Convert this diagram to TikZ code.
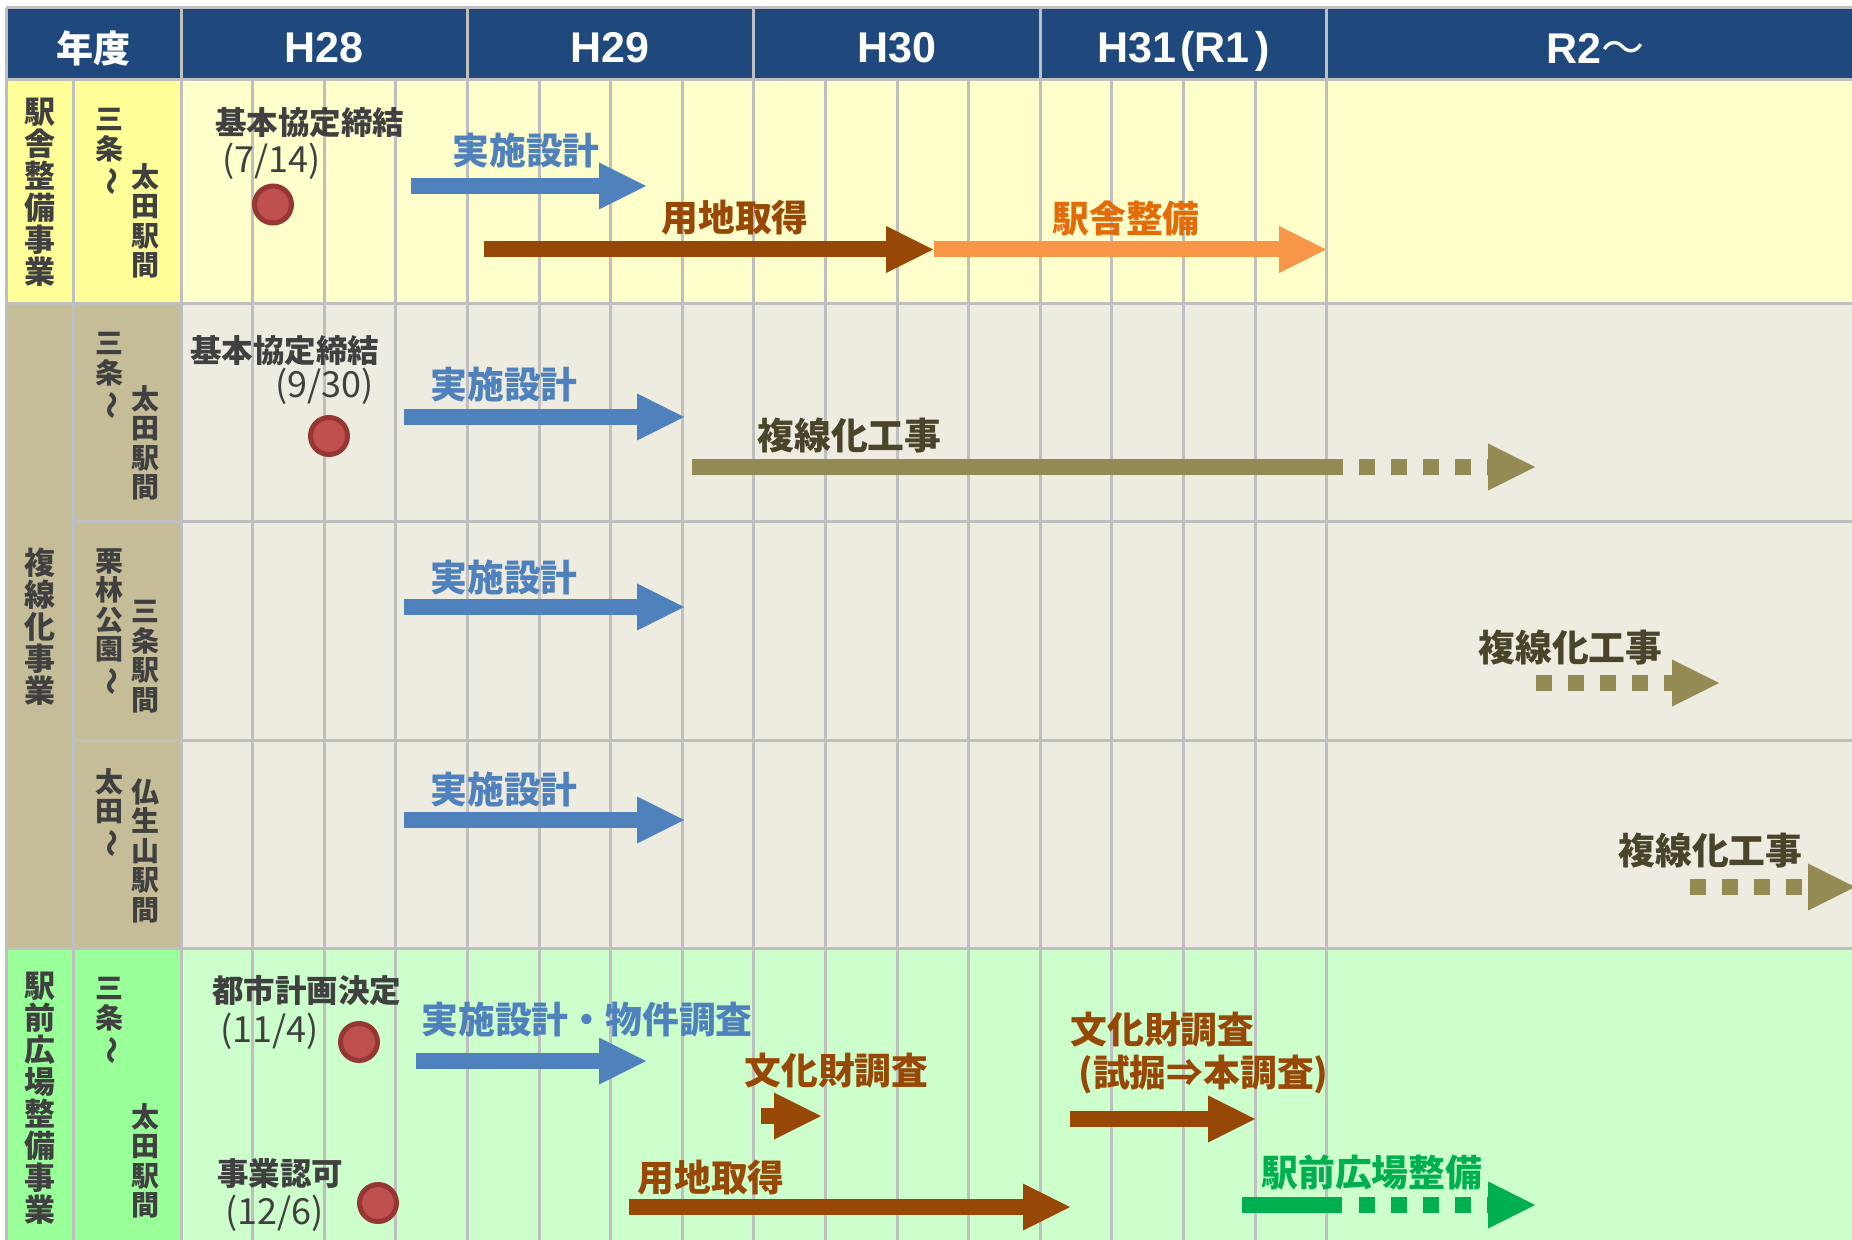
\documentclass[tikz,border=0pt]{standalone}
\usepackage{fontspec}
\setmainfont{Noto Sans CJK JP}
\newfontfamily\latfont{Liberation Sans}
\usepackage{graphicx}
\usetikzlibrary{arrows.meta}

\definecolor{hdrblue}{HTML}{1F497D}
\definecolor{gridgray}{HTML}{BFBFBF}
\definecolor{ylwbody}{HTML}{FFFFCC}
\definecolor{ylwlabel}{HTML}{FFFF99}
\definecolor{bgebody}{HTML}{EEECE1}
\definecolor{bgelabel}{HTML}{C4BD97}
\definecolor{grnbody}{HTML}{CCFFCC}
\definecolor{grnlabel}{HTML}{99FF99}
\definecolor{planblue}{HTML}{4F81BD}
\definecolor{landbrown}{HTML}{974706}
\definecolor{bldorange}{HTML}{F79646}
\definecolor{bldtext}{HTML}{E36C09}
\definecolor{workolive}{HTML}{948A54}
\definecolor{worktext}{HTML}{4A452A}
\definecolor{plazagreen}{HTML}{00B050}
\definecolor{txtgray}{HTML}{404040}
\definecolor{dotred}{HTML}{C0504D}
\definecolor{dotedge}{HTML}{953735}

\newcommand{\vnami}{\rotatebox[origin=c]{-90}{～}}

\tikzset{
  gridline/.style={draw=gridgray,line width=1.5pt},
  bararrow/.style={line width=8pt,-{Triangle[length=23.5pt,width=23.5pt,line width=0pt]}},
  dashbar/.style={bararrow,dash pattern=on 8pt off 8pt},
  milestone/.style={fill=dotred,draw=dotedge,line width=2.5pt},
  lbl/.style={anchor=north west,inner sep=0pt},
  biglbl/.style={lbl,font=\fontsize{18.4}{20}\selectfont\bfseries},
  smalllbl/.style={lbl,text=txtgray,font=\fontsize{15.75}{17}\selectfont\bfseries},
  datelbl/.style={lbl,text=txtgray,font=\fontsize{18}{20}\selectfont},
  colA/.style={anchor=north,inner sep=0pt,align=center,text=txtgray,font=\fontsize{15.5}{16}\selectfont\bfseries},
  colB/.style={anchor=north,inner sep=0pt,align=center,text=txtgray,font=\fontsize{14}{14.75}\selectfont\bfseries},
  hdr/.style={text=white,inner sep=0pt},
  yearhdr/.style={hdr,font=\latfont\fontsize{21.5}{24}\selectfont\bfseries}
}

\begin{document}
\begin{tikzpicture}[x=0.5pt,y=0.5pt,yscale=-1,xscale=1]
\useasboundingbox (0,0) rectangle (1852,1240);
\clip (0,0) rectangle (1852,1240);
\fill[white] (0,0) rectangle (1852,1240);
\fill[hdrblue] (6,8) rectangle (1860,80);
\fill[ylwlabel] (6,80) rectangle (181,303.5);
\fill[ylwbody] (181,80) rectangle (1860,303.5);
\fill[bgelabel] (6,303.5) rectangle (181,948);
\fill[bgebody] (181,303.5) rectangle (1860,948);
\fill[grnlabel] (6,948) rectangle (181,1250);
\fill[grnbody] (181,948) rectangle (1860,1250);

\draw[gridline] (6,8) -- (1860,8);
\draw[gridline] (6,80) -- (1860,80);
\draw[gridline] (6,303.5) -- (1860,303.5);
\draw[gridline] (73,522) -- (1860,522);
\draw[gridline] (73,740.5) -- (1860,740.5);
\draw[gridline] (6,948) -- (1860,948);
\draw[gridline] (6,8) -- (6,1250);
\draw[gridline] (73,80) -- (73,1250);
\foreach \k in {0,...,16} {\draw[gridline] ({181+71.6*\k},80) -- ({181+71.6*\k},1250);}
\foreach \k in {0,4,8,12,16} {\draw[gridline] ({181+71.6*\k},8) -- ({181+71.6*\k},80);}

\draw (93,48) node [hdr,font=\fontsize{18.5}{20}\selectfont\bfseries] (nendo) {年度};
\draw (324,48) node [yearhdr] (h28) {H28};
\draw (610,48) node [yearhdr] (h29) {H29};
\draw (897,48) node [yearhdr] (h30) {H30};
\draw (1184,51) node [yearhdr] (h31) {H31\hspace{2pt}(R1\hspace{3pt})};
\draw (1595,48) node [yearhdr] (r2) {R2{\normalfont\mdseries ～}};

\draw (40,98) node [colA] (ekishaA) {駅\\舎\\整\\備\\事\\業};
\draw (40,548) node [colA] (fukusenA) {複\\線\\化\\事\\業};
\draw (40,972) node [colA] (ekimaeA) {駅\\前\\広\\場\\整\\備\\事\\業};
\draw (109.5,108) node [colB] (sec1a) {三\\条\\\vnami};
\draw (145,163) node [colB] (sec1b) {太\\田\\駅\\間};
\draw (109.5,332) node [colB] (sec2a) {三\\条\\\vnami};
\draw (145,385) node [colB] (sec2b) {太\\田\\駅\\間};
\draw (109.5,548) node [colB] (sec3a) {栗\\林\\公\\園\\\vnami};
\draw (145,600) node [colB] (sec3b) {三\\条\\駅\\間};
\draw (109.5,768) node [colB] (sec4a) {太\\田\\\vnami};
\draw (145,778) node [colB] (sec4b) {仏\\生\\山\\駅\\間};
\draw (109.5,977) node [colB] (sec5a) {三\\条\\\vnami};
\draw (145,1103) node [colB] (sec5b) {太\\田\\駅\\間};

\draw (215,107) node [smalllbl] (kyotei1) {基本協定締結};
\draw (222,143) node [datelbl] (date1) {(7/14)};
\draw[milestone] (273,204.5) circle (18.5);
\draw (452,133) node [biglbl,text=planblue] (jisshi1) {実施設計};
\draw[bararrow,planblue] (411,186) -- (646,186);
\draw (661,200) node [biglbl,text=landbrown] (yochi1) {用地取得};
\draw[bararrow,landbrown] (484,249.5) -- (933,249.5);
\draw (1052,200) node [biglbl,text=bldtext] (ekisha) {駅舎整備};
\draw[bararrow,bldorange] (934,249.5) -- (1326,249.5);

\draw (190,335) node [smalllbl] (kyotei2) {基本協定締結};
\draw (275,368) node [datelbl] (date2) {(9/30)};
\draw[milestone] (329,436) circle (18.5);
\draw (430,367) node [biglbl,text=planblue] (jisshi2) {実施設計};
\draw[bararrow,planblue] (404,417) -- (684,417);
\draw (757,418) node [biglbl,text=worktext] (fukusen2) {複線化工事};
\draw[workolive,line width=8pt] (692,467) -- (1343,467);
\draw[dashbar,workolive] (1359,467) -- (1535,467);

\draw (430,560) node [biglbl,text=planblue] (jisshi3) {実施設計};
\draw[bararrow,planblue] (404,607) -- (684,607);
\draw (1478,630) node [biglbl,text=worktext] (fukusen3) {複線化工事};
\draw[dashbar,workolive] (1536,683) -- (1719,683);

\draw (430,772) node [biglbl,text=planblue] (jisshi4) {実施設計};
\draw[bararrow,planblue] (404,820) -- (684,820);
\draw (1618,833) node [biglbl,text=worktext] (fukusen4) {複線化工事};
\draw[dashbar,workolive] (1690,887) -- (1855,887);

\draw (212,975) node [smalllbl] (toshi) {都市計画決定};
\draw (220,1013) node [datelbl] (date3) {(11/4)};
\draw[milestone] (359,1042) circle (18.5);
\draw (217,1158) node [smalllbl] (ninka) {事業認可};
\draw (225,1195) node [datelbl] (date4) {(12/6)};
\draw[milestone] (378,1203) circle (18.5);
\draw (421,1002) node [biglbl,text=planblue] (jisshi5) {実施設計・物件調査};
\draw[bararrow,planblue] (416,1061) -- (646,1061);
\draw (744,1053) node [biglbl,text=landbrown] (bunka1) {文化財調査};
\draw[bararrow,landbrown] (761,1116) -- (821,1116);
\draw (1070,1012) node [biglbl,text=landbrown] (bunka2) {文化財調査};
\draw (1078,1055) node [biglbl,text=landbrown] (shikutsu) {(試掘⇒本調査)};
\draw[bararrow,landbrown] (1070,1119) -- (1255,1119);
\draw (637,1160) node [biglbl,text=landbrown] (yochi5) {用地取得};
\draw[bararrow,landbrown] (629,1207) -- (1070,1207);
\draw (1261,1155) node [biglbl,text=plazagreen] (ekimae) {駅前広場整備};
\draw[plazagreen,line width=8pt] (1242,1205) -- (1342,1205);
\draw[dashbar,plazagreen] (1359,1205) -- (1535,1205);
\end{tikzpicture}
\end{document}
